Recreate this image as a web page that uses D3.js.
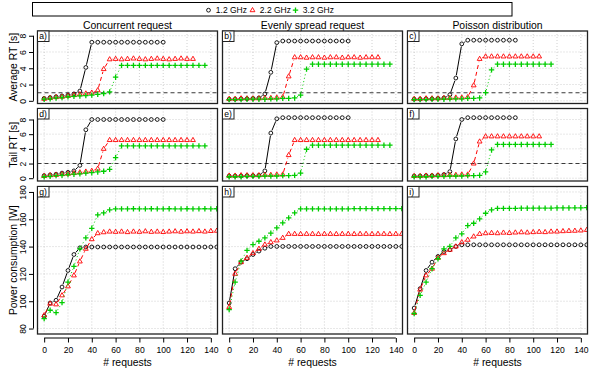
<!DOCTYPE html>
<html>
<head>
<meta charset="utf-8">
<script src="https://cdn.jsdelivr.net/npm/d3@7"></script>
<style>
body { margin: 0; background: #fff; }
text { font-family: "Liberation Sans", Arial, Helvetica, sans-serif; fill: #000; }
</style>
</head>
<body>
<script>
// x values (number of requests), one entry per measured point
const requests = [0,5,10,15,20,25,30,35,40,45,50,55,60,65,70,75,80,85,90,95,100,105,110,115,120,125,130,135,140,145]
const freqLabels = ["1.2 GHz", "2.2 GHz", "3.2 GHz"]
const scenarioTitles = ["Concurrent request", "Evenly spread request", "Poisson distribution"]
const metricTitles = ["Average RT [s]", "Tail RT [s]", "Power consumption [W]"]
const panelTags = ["a)", "b)", "c)", "d)", "e)", "f)", "g)", "h)", "i)"]
const rtTicks = [0, 2, 4, 6, 8]
const powerTicks = [80, 100, 120, 140, 160, 180]
const requestTicks = [0, 20, 40, 60, 80, 100, 120, 140]
const rtThresholds = [1, 2]   // average RT target, tail RT target

// Average RT [s]
const avgConc12 = [0.3,0.4,0.5,0.6,0.7,0.85,1.2,4.1,7.2,7.2,7.2,7.2,7.2,7.2,7.2,7.2,7.2,7.2,7.2,7.2,7.2]
const avgConc22 = [0.25,0.35,0.45,0.5,0.6,0.7,0.8,0.9,1.0,1.3,3.9,5.1,5.15,5.1,5.15,5.2,5.15,5.1,5.15,5.2,5.15,5.1,5.15,5.2,5.15,5.15]
const avgConc32 = [0.2,0.25,0.35,0.4,0.5,0.55,0.6,0.65,0.7,0.8,0.9,1.1,2.9,4.35,4.35,4.35,4.35,4.35,4.35,4.35,4.35,4.35,4.35,4.35,4.35,4.35,4.35,4.35]
const avgEven12 = [0.2,0.2,0.25,0.25,0.3,0.35,0.85,3.5,7.15,7.35,7.35,7.35,7.35,7.35,7.35,7.35,7.35,7.35,7.35,7.35,7.35]
const avgEven22 = [0.25,0.25,0.3,0.3,0.3,0.3,0.35,0.35,0.4,0.45,3.0,5.35,5.35,5.3,5.35,5.35,5.3,5.35,5.35,5.3,5.35,5.35,5.3,5.35,5.35,5.35]
const avgEven32 = [0.15,0.15,0.15,0.2,0.2,0.2,0.2,0.25,0.25,0.3,0.3,0.35,0.7,3.9,4.5,4.5,4.5,4.5,4.5,4.5,4.5,4.5,4.5,4.5,4.5,4.5,4.5,4.5]
const avgPois12 = [0.2,0.2,0.25,0.25,0.3,0.35,0.75,2.8,7.0,7.45,7.45,7.45,7.45,7.45,7.45,7.45,7.45,7.45]
const avgPois22 = [0.25,0.25,0.3,0.3,0.3,0.35,0.35,0.4,0.4,0.45,1.9,5.15,5.45,5.45,5.45,5.45,5.45,5.45,5.45,5.45,5.45,5.45]
const avgPois32 = [0.15,0.15,0.15,0.2,0.2,0.2,0.25,0.25,0.25,0.3,0.3,0.35,1.0,3.8,4.5,4.5,4.5,4.5,4.5,4.5,4.5,4.5,4.5,4.5]

// Tail RT [s]
const tailConc12 = [0.35,0.45,0.55,0.7,0.8,1.0,1.75,6.6,8.0,8.0,8.0,8.0,8.0,8.0,8.0,8.0,8.0,8.0,8.0,8.0,8.0]
const tailConc22 = [0.3,0.4,0.45,0.55,0.6,0.7,0.8,0.9,1.0,1.3,4.0,5.2,5.2,5.2,5.2,5.2,5.2,5.2,5.2,5.2,5.2,5.2,5.2,5.2,5.2,5.2]
const tailConc32 = [0.2,0.25,0.35,0.4,0.5,0.55,0.6,0.7,0.75,0.85,0.95,1.2,2.8,4.4,4.4,4.4,4.4,4.4,4.4,4.4,4.4,4.4,4.4,4.4,4.4,4.4,4.4,4.4]
const tailEven12 = [0.3,0.3,0.3,0.35,0.35,0.4,1.0,6.15,8.1,8.25,8.25,8.25,8.25,8.25,8.25,8.25,8.25,8.25,8.25,8.25,8.25]
const tailEven22 = [0.35,0.35,0.4,0.4,0.4,0.4,0.45,0.45,0.5,0.5,3.15,5.2,5.2,5.2,5.2,5.2,5.2,5.2,5.2,5.2,5.2,5.2,5.2,5.2,5.2,5.2]
const tailEven32 = [0.2,0.2,0.2,0.25,0.25,0.25,0.3,0.3,0.3,0.35,0.35,0.4,0.7,3.95,4.5,4.5,4.5,4.5,4.5,4.5,4.5,4.5,4.5,4.5,4.5,4.5,4.5,4.5]
const tailPois12 = [0.3,0.3,0.35,0.35,0.4,0.5,0.9,5.35,8.0,8.25,8.25,8.25,8.25,8.25,8.25,8.25,8.25,8.25]
const tailPois22 = [0.3,0.3,0.35,0.35,0.4,0.4,0.45,0.45,0.5,0.5,2.0,5.0,5.7,5.7,5.7,5.7,5.7,5.7,5.7,5.7,5.7,5.7]
const tailPois32 = [0.2,0.2,0.2,0.25,0.25,0.25,0.3,0.3,0.3,0.35,0.35,0.4,0.85,3.85,4.6,4.6,4.6,4.6,4.6,4.6,4.6,4.6,4.6,4.6]

// Power consumption [W]
const powConc12 = [89,98.7,100.7,110.4,122.5,134.2,139.1,139.7,139.7,139.7,139.7,139.7,139.7,139.7,139.7,139.7,139.7,139.7,139.7,139.7,139.7,139.7,139.7,139.7,139.7,139.7,139.7,139.7,139.7,139.7]
const powConc22 = [89.7,98.2,97.7,104.3,110.9,118.9,129.1,138.4,145.4,149.8,150.5,151,150.8,151,150.6,151,150.8,151.2,150.8,151,150.7,151,151.2,150.9,151.2,151,151.3,151,151.4,151.6]
const powConc32 = [87.3,93.4,91.7,99,114,125.5,138.4,146.4,153.4,163.2,164.7,166.9,167.6,167.6,167.6,167.7,167.6,167.6,167.7,167.6,167.6,167.7,167.6,167.6,167.7,167.6,167.6,167.7,167.6,167.7]
const powEven12 = [98.7,123.8,128.6,131.1,134.2,136.7,138.8,140.1,140.1,140.1,140.1,140.1,140.1,140.1,140.1,140.1,140.1,140.1,140.1,140.1,140.1,140.1,140.1,140.1,140.1,140.1,140.1,140.1,140.1,140.1]
const powEven22 = [95.8,120.1,128.6,131.8,135.2,138.4,141.5,143.2,144.5,146.4,149.3,149.3,149.2,149.3,149.3,149.2,149.3,149.3,149.2,149.3,149.3,149.2,149.3,149.3,149.2,149.3,149.3,149.2,149.3,149.3]
const powEven32 = [93.9,114,129.3,137.2,141.5,143.9,146.4,149.8,153.7,157.4,161,164.7,167.6,167.6,167.6,167.6,167.6,167.6,167.6,167.6,167.6,167.8,167.8,167.8,167.8,167.8,167.8,167.8,167.8,167.8]
const powPois12 = [95,109.2,122.5,128.6,132.8,136.4,137.7,140.1,141.3,141.3,141.3,141.3,141.3,141.3,141.3,141.3,141.3,141.3,141.3,141.3,141.3,141.3,141.3,141.3,141.3,141.3,141.3,141.3,141.3,141.3]
const powPois22 = [91.4,108.5,118.9,123.8,131.8,135.2,137.7,140.1,143.2,145,147.4,149.3,149.8,150,149.8,150.2,150,150.3,150.5,150.3,150.6,150.8,150.6,151,151,151.3,151.5,151.6,151.8,152.2]
const powPois32 = [91,104.3,114,123.8,131.1,138.4,140.1,146.4,149.3,155.4,157.1,160.3,164.4,166.9,168,168,168,168,168.1,168.1,168.1,168.2,168.2,168.2,168.3,168.3,168.3,168.4,168.4,168.5]

const panelSeries = [
	[avgConc12, avgConc22, avgConc32], [avgEven12, avgEven22, avgEven32], [avgPois12, avgPois22, avgPois32],
	[tailConc12, tailConc22, tailConc32], [tailEven12, tailEven22, tailEven32], [tailPois12, tailPois22, tailPois32],
	[powConc12, powConc22, powConc32], [powEven12, powEven22, powEven32], [powPois12, powPois22, powPois32]
]

// layout
const W = 598, H = 372
const colLeft = [37.5, 222.5, 407.5]
const plotW = 180
const rowTop = [31, 108.5, 186.5]
const rowH = [72.5, 72.5, 147.5]
const yDomains = [[-0.33, 8.58], [-0.38, 9.5], [76, 184]]
const styles = [
	{color: "#000", dash: null, shape: "circle"},
	{color: "#ff0000", dash: "4,3", shape: "triangle"},
	{color: "#00cd00", dash: "1,2.5", shape: "plus"}
]
const GAP = 2.8

const svg = d3.select("body").append("svg").attr("width", W).attr("height", H)

const x = d3.scaleLinear().domain([-5.6, 145.6]).range([0, plotW])

function markerPath(shape){
	if (shape === "circle") return d3.symbol().type(d3.symbolCircle).size(Math.PI * 1.9 * 1.9)()
	if (shape === "triangle") return "M0,-2.7L2.4,1.5L-2.4,1.5Z"
	return "M-2.7,0H2.7M0,-2.7V2.7"
}

function drawMarker(sel, st){
	sel.attr("d", markerPath(st.shape))
		.attr("fill", "none")
		.attr("stroke", st.color)
		.attr("stroke-width", st.shape === "plus" ? 1.3 : 0.9)
}

// legend
const legend = svg.append("g")
legend.append("rect").attr("x", 32.5).attr("y", 2.5).attr("width", 479.5).attr("height", 13.5)
	.attr("fill", "#fff").attr("stroke", "#000").attr("stroke-width", 1)
const legendX = [208.5, 252.5, 295.5]
freqLabels.forEach((lab, i) => {
	legend.append("path").attr("transform", `translate(${legendX[i]},10.2)`).call(drawMarker, styles[i])
	legend.append("text").attr("x", legendX[i] + 7.3).attr("y", 13).style("font-size", "8.5px").text(lab)
})

// column titles
scenarioTitles.forEach((t, c) => {
	svg.append("text").attr("x", colLeft[c] + plotW / 2).attr("y", 29)
		.attr("text-anchor", "middle").style("font-size", "10.4px").text(t)
})

panelSeries.forEach((series, p) => {
	const row = Math.floor(p / 3), col = p % 3
	const h = rowH[row]
	const y = d3.scaleLinear().domain(yDomains[row]).range([h, 0])
	const yTicks = row < 2 ? rtTicks : powerTicks
	const g = svg.append("g").attr("transform", `translate(${colLeft[col]},${rowTop[row]})`)

	g.append("clipPath").attr("id", "clip" + p)
		.append("rect").attr("width", plotW).attr("height", h)
	const inner = g.append("g").attr("clip-path", `url(#clip${p})`)

	// dotted grid
	inner.selectAll("line.vg").data(requestTicks).enter().append("line")
		.attr("class", "vg")
		.attr("x1", d => x(d)).attr("x2", d => x(d)).attr("y1", 0).attr("y2", h)
		.attr("stroke", "#c4c4c4").attr("stroke-width", 0.8).attr("stroke-dasharray", "1,2")
	inner.selectAll("line.hg").data(yTicks).enter().append("line")
		.attr("class", "hg")
		.attr("x1", 0).attr("x2", plotW).attr("y1", d => y(d)).attr("y2", d => y(d))
		.attr("stroke", "#c4c4c4").attr("stroke-width", 0.8).attr("stroke-dasharray", "1,2")

	// response time target
	if (row < 2) {
		inner.append("line")
			.attr("x1", 0).attr("x2", plotW)
			.attr("y1", y(rtThresholds[row])).attr("y2", y(rtThresholds[row]))
			.attr("stroke", "#3a3a3a").attr("stroke-width", 1.1).attr("stroke-dasharray", "4,3")
	}

	// series: lines with gaps around points (like type = "b"), then markers
	series.forEach((vals, s) => {
		const st = styles[s]
		const pts = vals.map((v, i) => [x(requests[i]), y(v)])
		const segs = []
		for (let i = 0; i < pts.length - 1; i++) {
			const dx = pts[i+1][0] - pts[i][0], dy = pts[i+1][1] - pts[i][1]
			const len = Math.hypot(dx, dy)
			if (len <= 2 * GAP) continue
			const ux = dx / len, uy = dy / len
			segs.push([pts[i][0] + ux * GAP, pts[i][1] + uy * GAP, pts[i+1][0] - ux * GAP, pts[i+1][1] - uy * GAP])
		}
		inner.append("g").selectAll("line").data(segs).enter().append("line")
			.attr("x1", d => d[0]).attr("y1", d => d[1]).attr("x2", d => d[2]).attr("y2", d => d[3])
			.attr("stroke", st.color).attr("stroke-width", 1)
			.attr("stroke-dasharray", st.dash)
		inner.append("g").selectAll("path").data(pts).enter().append("path")
			.attr("transform", d => `translate(${d[0]},${d[1]})`)
			.call(drawMarker, st)
	})

	// box
	g.append("rect").attr("width", plotW).attr("height", h)
		.attr("fill", "none").attr("stroke", "#222").attr("stroke-width", 1.3)

	// panel tag
	g.append("rect").attr("x", 0).attr("y", 0).attr("width", 11.5).attr("height", 10.5)
		.attr("fill", "#fff").attr("stroke", "#222").attr("stroke-width", 1)
	g.append("text").attr("x", 1.8).attr("y", 8.2).style("font-size", "8.6px").text(panelTags[p])

	// y axis, left column only
	if (col === 0) {
		const ax = g.append("g").attr("transform", "translate(-4,0)")
			.call(d3.axisLeft(y).tickValues(yTicks).tickSize(4.5).tickSizeOuter(0))
		ax.select(".domain").attr("d", `M0,${y(yTicks[0])}V${y(yTicks[yTicks.length - 1])}`)
		ax.selectAll("line, path").attr("stroke", "#000")
		ax.selectAll("text")
			.attr("x", 0).attr("y", -7.6).attr("dy", null)
			.attr("transform", "rotate(-90)")
			.attr("text-anchor", "middle")
			.style("font-size", "8.6px").style("font-family", null)
		g.append("text")
			.attr("transform", `translate(${16.5 - colLeft[0]},${h / 2}) rotate(-90)`)
			.attr("text-anchor", "middle").style("font-size", "10.4px")
			.text(metricTitles[row])
	}

	// x axis, bottom row only
	if (row === 2) {
		const ax = g.append("g").attr("transform", `translate(0,${h + 4})`)
			.call(d3.axisBottom(x).tickValues(requestTicks).tickSize(4.5).tickPadding(4.5).tickSizeOuter(0))
		ax.select(".domain").attr("d", `M${x(requestTicks[0])},0H${x(requestTicks[requestTicks.length - 1])}`)
		ax.selectAll("line, path").attr("stroke", "#000")
		ax.selectAll("text").style("font-size", "8.6px").style("font-family", null)
		g.append("text").attr("x", plotW / 2).attr("y", h + 31.5)
			.attr("text-anchor", "middle").style("font-size", "10.4px").text("# requests")
	}
})
</script>
</body>
</html>
